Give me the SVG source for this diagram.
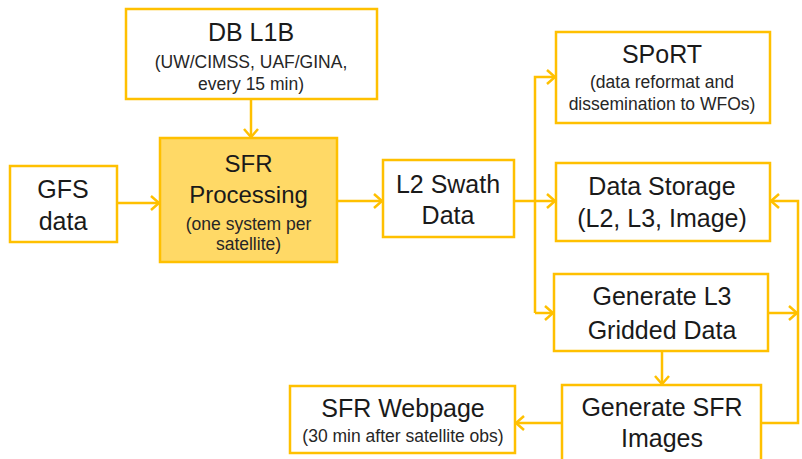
<svg xmlns="http://www.w3.org/2000/svg" width="802" height="459" viewBox="0 0 802 459">
<style>
.box{fill:#fff;stroke:#FFC000;stroke-width:2.5}
.hl{fill:#FFD966}
.t{font-family:"Liberation Sans",Arial,sans-serif;font-size:25px;fill:#1a1a1a;text-anchor:middle}
.s{font-family:"Liberation Sans",Arial,sans-serif;font-size:17.5px;fill:#262626;text-anchor:middle}
.c{fill:none;stroke:#FFC000;stroke-width:2.5}
.a{marker-end:url(#arr)}
</style>
<defs>
<marker id="arr" markerUnits="userSpaceOnUse" markerWidth="14" markerHeight="16" refX="11" refY="8" orient="auto">
<path d="M3,1 L11,8 L3,15" fill="none" stroke="#FFC000" stroke-width="2.5"/>
</marker>
</defs>
<rect width="802" height="459" fill="#fff"/>
<g id="connectors">
<path class="c a" d="M251,99 V137"/>
<path class="c a" d="M117,203 H159"/>
<path class="c a" d="M337,201 H382"/>
<path class="c a" d="M514,201 H555"/>
<path class="c a" d="M535,313 V77 H555"/>
<path class="c a" d="M535,313 H553"/>
<path class="c a" d="M768,313 H797"/>
<path class="c a" d="M761,423 H798 V201 H771"/>
<path class="c a" d="M662,351 V384"/>
<path class="c a" d="M562,423 H516"/>
</g>
<g id="db-l1b">
<rect class="box" x="126" y="9" width="251" height="90"/>
<text class="t" x="251" y="41">DB L1B</text>
<text class="s" x="251" y="68">(UW/CIMSS, UAF/GINA,</text>
<text class="s" x="251" y="90">every 15 min)</text>
</g>
<g id="gfs">
<rect class="box" x="10" y="166" width="107" height="76"/>
<text class="t" x="63" y="198">GFS</text>
<text class="t" x="63" y="230">data</text>
</g>
<g id="sfr-processing">
<rect class="box hl" x="160" y="138" width="177" height="124"/>
<text class="t" x="248.5" y="172" style="font-size:24px">SFR</text>
<text class="t" x="248.5" y="203" style="font-size:24px">Processing</text>
<text class="s" x="248.5" y="230">(one system per</text>
<text class="s" x="248.5" y="250">satellite)</text>
</g>
<g id="l2-swath">
<rect class="box" x="383" y="160" width="131" height="77"/>
<text class="t" x="448" y="193">L2 Swath</text>
<text class="t" x="448" y="224">Data</text>
</g>
<g id="sport">
<rect class="box" x="556" y="32" width="214" height="91"/>
<text class="t" x="662" y="63">SPoRT</text>
<text class="s" x="662" y="88">(data reformat and</text>
<text class="s" x="662" y="110">dissemination to WFOs)</text>
</g>
<g id="data-storage">
<rect class="box" x="556" y="163" width="214" height="78"/>
<text class="t" x="662" y="195">Data Storage</text>
<text class="t" x="662" y="227">(L2, L3, Image)</text>
</g>
<g id="generate-l3">
<rect class="box" x="554" y="274" width="214" height="77"/>
<text class="t" x="662" y="305">Generate L3</text>
<text class="t" x="662" y="339">Gridded Data</text>
</g>
<g id="generate-sfr-images">
<rect class="box" x="562" y="385" width="199" height="80"/>
<text class="t" x="662" y="416">Generate SFR</text>
<text class="t" x="662" y="447">Images</text>
</g>
<g id="sfr-webpage">
<rect class="box" x="290" y="386" width="225" height="67"/>
<text class="t" x="403" y="417">SFR Webpage</text>
<text class="s" x="403" y="442">(30 min after satellite obs)</text>
</g>
</svg>
